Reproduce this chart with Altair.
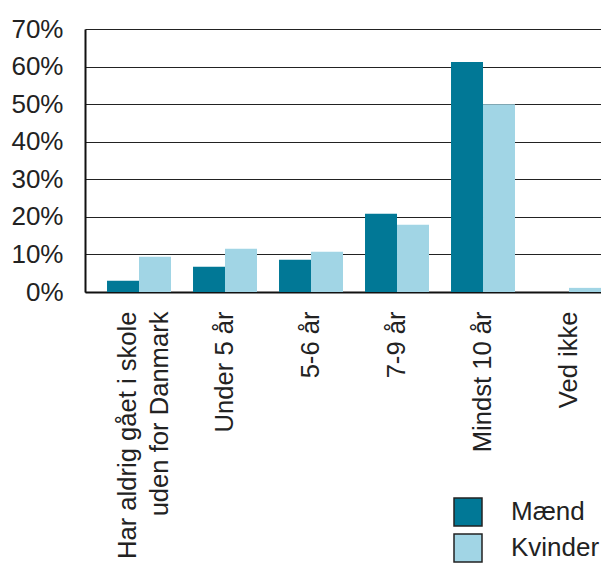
import altair as alt
import pandas as pd

categories = ["Har aldrig gået i skole|uden for Danmark", "Under 5 år", "5-6 år", "7-9 år", "Mindst 10 år", "Ved ikke"]
maend = [3.0, 6.7, 8.6, 20.8, 61.2, 0.0]
kvinder = [9.4, 11.5, 10.7, 17.9, 50.0, 1.1]
series = ["Mænd", "Kvinder"]
colors = ["#017896", "#a1d5e5"]
y_ticks = [0, 0.1, 0.2, 0.3, 0.4, 0.5, 0.6, 0.7]

rows = []
for c, m, k in zip(categories, maend, kvinder):
    rows.append({"Kategori": c, "Køn": "Mænd", "Andel": m / 100})
    rows.append({"Kategori": c, "Køn": "Kvinder", "Andel": k / 100})
df = pd.DataFrame(rows)

FONT = "Liberation Sans"

x_label_offset = {"condition": {"test": "indexof(datum.value, '|') >= 0", "value": -11}, "value": 0}

chart = alt.Chart(df).mark_bar().encode(
    x=alt.X("Kategori:N", sort=categories,
            scale=alt.Scale(paddingInner=0.256, paddingOuter=0.128, align=1),
            axis=alt.Axis(title=None, labelAngle=-90, labelExpr="split(datum.label, '|')",
                          labelFontSize=25.6, labelLineHeight=32, labelPadding=19,
                          labelOffset=x_label_offset, ticks=False,
                          domainColor="#111", domainWidth=2, labelColor="#222", labelFont=FONT,
                          labelLimit=400)),
    xOffset=alt.XOffset("Køn:N", sort=series, scale=alt.Scale(paddingInner=0, paddingOuter=0)),
    y=alt.Y("Andel:Q", scale=alt.Scale(domain=[0, 0.7], nice=False),
            axis=alt.Axis(title=None, format=".0%", values=y_ticks, labelFontSize=26,
                          labelPadding=22, ticks=False, domainColor="#111", domainWidth=2,
                          gridColor="#222", gridWidth=1, gridOpacity=1, labelColor="#222",
                          labelFont=FONT)),
    color=alt.Color("Køn:N", sort=series, scale=alt.Scale(domain=series, range=colors),
                    legend=alt.Legend(title=None, orient="none", legendX=368, legendY=468,
                                      symbolType="square", symbolSize=784,
                                      symbolStrokeColor="#222", symbolStrokeWidth=1.5,
                                      symbolOpacity=1, labelFontSize=26, labelFont=FONT,
                                      labelColor="#222", labelOffset=28, rowPadding=2,
                                      padding=0)),
).properties(
    width=516, height=263,
    padding={"left": 77, "top": 21, "right": 0, "bottom": 272},
    autosize=alt.AutoSizeParams(type="none"),
).configure_view(stroke=None)

chart.save("out.html", embed_options={"renderer": "svg", "actions": False})
